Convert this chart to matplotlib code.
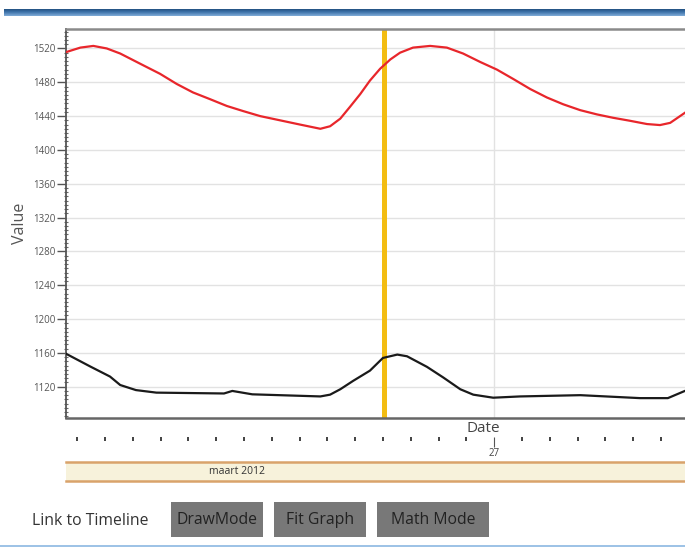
import numpy as np
import pandas as pd
import matplotlib
matplotlib.use("Agg")
import matplotlib.pyplot as plt
import matplotlib.dates as mdates
from matplotlib.ticker import MultipleLocator
from matplotlib.patches import Rectangle
from matplotlib.colors import LinearSegmentedColormap

plt.rcParams['font.family'] = ['Open Sans', 'DejaVu Sans']

# red series (upper)
red_times = ["2012-03-26 08:38", "2012-03-26 09:07", "2012-03-26 09:35", "2012-03-26 10:04",
             "2012-03-26 10:33", "2012-03-26 11:23", "2012-03-26 11:59", "2012-03-26 12:35",
             "2012-03-26 13:10", "2012-03-26 13:47", "2012-03-26 14:23", "2012-03-26 14:58",
             "2012-03-26 15:35", "2012-03-26 16:18", "2012-03-26 17:01", "2012-03-26 17:45",
             "2012-03-26 18:06", "2012-03-26 18:28", "2012-03-26 18:49", "2012-03-26 19:11",
             "2012-03-26 19:32", "2012-03-26 19:54", "2012-03-26 20:16", "2012-03-26 20:37",
             "2012-03-26 21:05", "2012-03-26 21:42", "2012-03-26 22:18", "2012-03-26 22:53",
             "2012-03-26 23:30", "2012-03-27 00:06", "2012-03-27 00:41", "2012-03-27 01:18",
             "2012-03-27 01:54", "2012-03-27 02:29", "2012-03-27 03:06", "2012-03-27 03:42",
             "2012-03-27 04:17", "2012-03-27 04:53", "2012-03-27 05:30", "2012-03-27 05:58",
             "2012-03-27 06:20", "2012-03-27 06:52"]
red_values = [1516, 1521, 1523, 1520, 1514, 1500, 1490, 1478, 1468, 1460, 1452, 1446,
              1440, 1435, 1430, 1425, 1428, 1437, 1451, 1466, 1482, 1496, 1507, 1515,
              1521, 1523, 1521, 1514, 1504, 1495, 1484, 1472, 1462, 1454, 1447, 1442,
              1438, 1434.5, 1430.6, 1429.4, 1432, 1444]

# black series (lower)
black_times = ["2012-03-26 08:36", "2012-03-26 09:28", "2012-03-26 10:11", "2012-03-26 10:33",
               "2012-03-26 11:07", "2012-03-26 11:51", "2012-03-26 14:17", "2012-03-26 14:35",
               "2012-03-26 15:18", "2012-03-26 17:45", "2012-03-26 18:06", "2012-03-26 18:28",
               "2012-03-26 18:56", "2012-03-26 19:32", "2012-03-26 20:00", "2012-03-26 20:31",
               "2012-03-26 20:52", "2012-03-26 21:35", "2012-03-26 22:10", "2012-03-26 22:47",
               "2012-03-26 23:15", "2012-03-26 23:58", "2012-03-27 00:56", "2012-03-27 03:06",
               "2012-03-27 05:15", "2012-03-27 06:15", "2012-03-27 06:56"]
black_values = [1159, 1144, 1132, 1122, 1116, 1113, 1112, 1115, 1111, 1108.5, 1110.6, 1117,
                1127, 1139, 1154, 1158, 1156, 1143.5, 1131, 1117, 1110.6, 1107, 1108.5, 1110,
                1106.5, 1106.5, 1116]

cursor_time = "2012-03-26 20:02"
x_start = "2012-03-26 08:36"
x_end = "2012-03-27 06:52"
y_ticks = np.arange(1120, 1521, 40)
band_label = "maart 2012"
link_label = "Link to Timeline"
buttons = ["DrawMode", "Fit Graph", "Math Mode"]

W, H = 685, 548
fig = plt.figure(figsize=(W / 100, H / 100), dpi=100)


def fx(x):
    return x / W


def fy(y):
    return 1 - y / H


xlim = (pd.Timestamp(x_start), pd.Timestamp(x_end))

# main plot
ax = fig.add_axes([fx(66), fy(418), fx(685) - fx(66), fy(29) - fy(418)])
ax.plot(pd.to_datetime(red_times), red_values, color="#e8262b", lw=1.6,
        solid_joinstyle='round', zorder=3)
ax.plot(pd.to_datetime(black_times), black_values, color="#1a1a1a", lw=1.6,
        solid_joinstyle='round', zorder=3)
ax.axvline(pd.Timestamp(cursor_time), color="#f3bd12", lw=3.6, zorder=2)
ax.set_xlim(*xlim)
ax.set_ylim(1083, 1543)
ax.set_yticks(y_ticks)
ax.yaxis.set_minor_locator(MultipleLocator(5))
ax.xaxis.set_major_locator(mdates.DayLocator())
ax.grid(True, color="#e2e2e2", lw=1)
ax.tick_params(axis='x', length=0, labelbottom=False)
ax.tick_params(axis='y', which='major', length=6.5, width=1, color='#555',
               labelsize=7, labelcolor='#555', pad=1)
ax.tick_params(axis='y', which='minor', direction='inout', length=3.5, width=0.8,
               color='#666')
ax.spines['right'].set_visible(False)
ax.spines['top'].set_color('#8a8a8a')
ax.spines['top'].set_linewidth(1.8)
ax.spines['left'].set_color('#555')
ax.spines['left'].set_linewidth(1.3)
ax.spines['bottom'].set_color('#666')
ax.spines['bottom'].set_linewidth(1.8)

fig.text(fx(20), fy(223), "Value", rotation=90, ha='center', va='center',
         fontsize=11.5, color='#555')
fig.text(fx(483), fy(429), "Date", ha='center', va='center', fontsize=11, color='#444')

# timeline ticks
tl = fig.add_axes([fx(66), fy(437), fx(685) - fx(66), 0.001])
tl.set_xlim(*xlim)
tl.patch.set_visible(False)
for s in tl.spines.values():
    s.set_visible(False)
tl.set_yticks([])
tl.xaxis.set_major_locator(mdates.DayLocator())
tl.xaxis.set_major_formatter(mdates.DateFormatter('%d'))
tl.xaxis.set_minor_locator(mdates.HourLocator())
tl.tick_params(axis='x', which='minor', length=3, width=1.3, color='#333')
tl.tick_params(axis='x', which='major', length=7, width=0.8, color='#555',
               labelsize=7, labelcolor='#444', pad=1)

# month band
band = fig.add_axes([fx(66), fy(481), fx(685) - fx(66), fy(462) - fy(481)])
band.set_facecolor('#f7f2db')
band.set_xticks([])
band.set_yticks([])
band.spines['left'].set_visible(False)
band.spines['right'].set_visible(False)
for k in ['top', 'bottom']:
    band.spines[k].set_color('#d9a36b')
    band.spines[k].set_linewidth(1.8)
band.text(0.276, 0.5, band_label, transform=band.transAxes, ha='center', va='center',
          fontsize=7.5, color='#333')

# top blue bar
bar = fig.add_axes([fx(4), fy(16.5), fx(685) - fx(4), fy(8.5) - fy(16.5)])
cmap = LinearSegmentedColormap.from_list('bar', ['#1b4776', '#3e73aa', '#7eaad6'])
bar.imshow(np.linspace(0, 1, 20).reshape(-1, 1), aspect='auto', cmap=cmap)
bar.axis('off')

# bottom line
fig.add_artist(Rectangle((0, fy(546.5)), 1, 2 / H, transform=fig.transFigure,
                         color='#9ec3e6', lw=0))

# buttons
fig.text(fx(32), fy(521), link_label, ha='left', va='center', fontsize=11.3, color='#333')
btn_left = [171, 274, 377]
btn_right = [263, 366, 489]
for lab, x0, x1 in zip(buttons, btn_left, btn_right):
    fig.add_artist(Rectangle((fx(x0), fy(537)), fx(x1) - fx(x0), fy(502) - fy(537),
                             transform=fig.transFigure, color='#787878', lw=0))
    fig.text(fx((x0 + x1) / 2), fy(520), lab, ha='center', va='center',
             fontsize=11.3, color='#222')

fig.savefig('out.png', dpi=100)
